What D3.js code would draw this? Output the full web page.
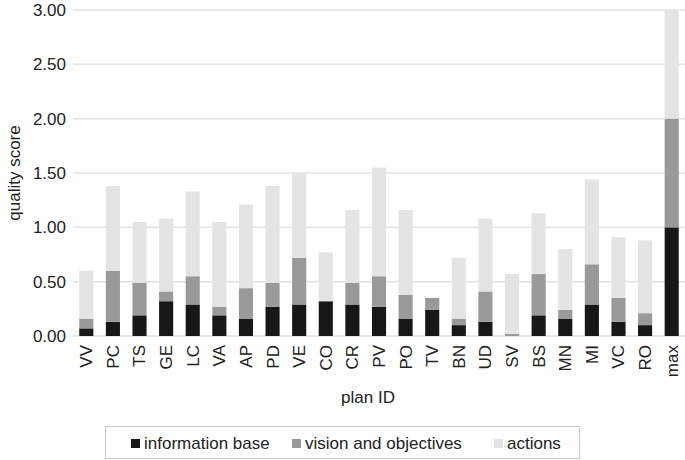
<!DOCTYPE html>
<html>
<head>
<meta charset="utf-8">
<script src="https://cdn.jsdelivr.net/npm/d3@7"></script>
<style>
  body { margin: 0; background: #fff; }
  text { font-family: "Liberation Sans", Arial, sans-serif; fill: #222; }
</style>
</head>
<body>
<svg class="chart_svg" width="685" height="460"></svg>
<script>
// plan IDs along the x axis
var plans = ["VV", "PC", "TS", "GE", "LC", "VA", "AP", "PD", "VE", "CO", "CR", "PV",
  "PO", "TV", "BN", "UD", "SV", "BS", "MN", "MI", "VC", "RO", "max"];

// segment values per plan
var infoBase = [0.07, 0.13, 0.19, 0.32, 0.29, 0.19, 0.16, 0.27, 0.29, 0.32, 0.29, 0.27,
  0.16, 0.24, 0.10, 0.13, 0.00, 0.19, 0.16, 0.29, 0.13, 0.10, 1.00];
var vision = [0.09, 0.47, 0.30, 0.09, 0.26, 0.08, 0.28, 0.22, 0.43, 0.00, 0.20, 0.28,
  0.22, 0.11, 0.06, 0.28, 0.02, 0.38, 0.08, 0.37, 0.22, 0.11, 1.00];
var actions = [0.44, 0.78, 0.56, 0.67, 0.78, 0.78, 0.77, 0.89, 0.78, 0.45, 0.67, 1.00,
  0.78, 0.00, 0.56, 0.67, 0.55, 0.56, 0.56, 0.78, 0.56, 0.67, 1.00];

var seriesNames = ["information base", "vision and objectives", "actions"];
var yTicks = [0, 0.5, 1, 1.5, 2, 2.5, 3];

var colors = ["#171717", "#999999", "#e4e4e4"];

var margin = { top: 10, right: 0, bottom: 124, left: 73 },
  W = 685, H = 460,
  h = H - margin.bottom;

var svg = d3.select(".chart_svg");

var table = plans.map(function (p, i) {
  return { plan: p, info: infoBase[i], vision: vision[i], actions: actions[i] };
});
var stack = d3.stack().keys(["info", "vision", "actions"])(table);

var x = d3.scaleBand()
  .domain(plans)
  .range([margin.left, W - margin.right])
  .paddingInner(0.47)
  .paddingOuter(0.235);

var y = d3.scaleLinear().domain([0, 3]).range([h, margin.top]);

// grid lines
svg.append("g")
  .selectAll("line")
  .data(yTicks)
  .join("line")
  .attr("x1", margin.left)
  .attr("x2", W)
  .attr("y1", function (d) { return y(d); })
  .attr("y2", function (d) { return y(d); })
  .attr("stroke", "#e2e2e2")
  .attr("stroke-width", 1.5);

// y axis labels
var yAxis = svg.append("g")
  .attr("transform", "translate(" + margin.left + ",0)")
  .call(d3.axisLeft(y).tickValues(yTicks).tickFormat(d3.format(".2f")).tickSize(0).tickPadding(7));
yAxis.select(".domain").remove();
yAxis.selectAll("text")
  .style("font-size", "17px")
  .style("font-family", "Liberation Sans, Arial, sans-serif")
  .attr("fill", "#222");

// bars
svg.append("g")
  .selectAll("g")
  .data(stack)
  .join("g")
  .attr("fill", function (d, i) { return colors[i]; })
  .selectAll("rect")
  .data(function (d) { return d; })
  .join("rect")
  .attr("x", function (d) { return x(d.data.plan); })
  .attr("y", function (d) { return y(d[1]); })
  .attr("width", x.bandwidth())
  .attr("height", function (d) { return Math.max(0, y(d[0]) - y(d[1])); });

// x axis labels
var xAxis = svg.append("g")
  .attr("transform", "translate(0," + h + ")")
  .call(d3.axisBottom(x).tickSize(0).tickPadding(0));
xAxis.select(".domain").remove();
xAxis.selectAll("text")
  .attr("transform", "rotate(-90)")
  .attr("x", -9)
  .attr("y", 0)
  .attr("dy", "0.35em")
  .attr("text-anchor", "end")
  .style("font-size", "17px")
  .style("font-family", "Liberation Sans, Arial, sans-serif")
  .attr("fill", "#222");

// axis titles
svg.append("text")
  .attr("x", 368)
  .attr("y", 403)
  .attr("text-anchor", "middle")
  .style("font-size", "17px")
  .text("plan ID");

svg.append("text")
  .attr("transform", "rotate(-90)")
  .attr("x", -173)
  .attr("y", 20)
  .attr("text-anchor", "middle")
  .style("font-size", "17px")
  .text("quality score");

// legend
svg.append("rect")
  .attr("x", 105.5)
  .attr("y", 426.5)
  .attr("width", 474)
  .attr("height", 32)
  .attr("fill", "#fff")
  .attr("stroke", "#c8c8c8");

var legX = [131, 292, 494];
var leg = svg.append("g")
  .selectAll("g")
  .data(seriesNames)
  .join("g")
  .attr("transform", function (d, i) { return "translate(" + legX[i] + ",437)"; });
leg.append("rect")
  .attr("width", 9)
  .attr("height", 9)
  .attr("y", 2)
  .attr("fill", function (d, i) { return colors[i]; });
leg.append("text")
  .attr("x", 13)
  .attr("y", 12)
  .style("font-size", "17px")
  .text(function (d) { return d; });
</script>
</body>
</html>
